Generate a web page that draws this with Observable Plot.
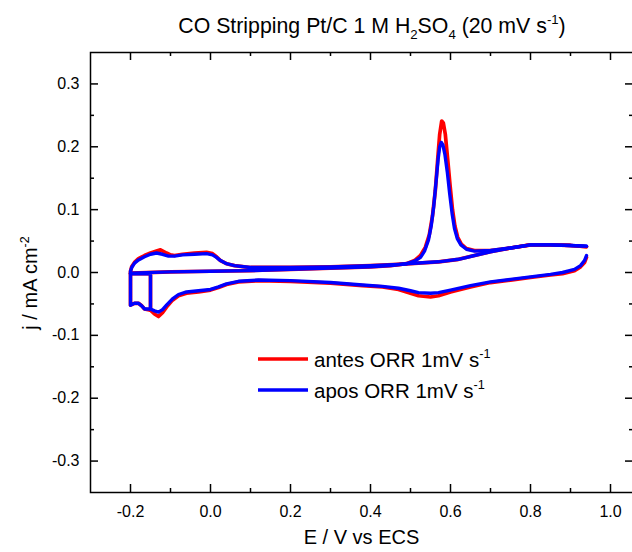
<!DOCTYPE html>
<html>
<head>
<meta charset="utf-8">
<script src="https://cdn.jsdelivr.net/npm/d3@7"></script>
<script src="https://cdn.jsdelivr.net/npm/@observablehq/plot@0.6"></script>
<style>
html, body { margin: 0; padding: 0; background: white; overflow: hidden; }
</style>
</head>
<body>
<div id="chart"></div>
<script>
// ---- Data ----
// antes ORR 1mV s-1 (red)
const E_antes = [
  -0.15, -0.15, -0.2,
  -0.2, -0.1, 0.0, 0.1, 0.2, 0.3, 0.4, 0.45, 0.49, 0.51, 0.525, 0.537, 0.547, 0.555, 0.562, 0.568, 0.573, 0.578, 0.582, 0.587, 0.593, 0.599, 0.605, 0.611, 0.618, 0.627, 0.64, 0.66, 0.7, 0.75, 0.8, 0.85, 0.9, 0.94,
  0.94, 0.935, 0.925, 0.91, 0.88, 0.85, 0.8, 0.75, 0.7, 0.65, 0.6, 0.57, 0.55, 0.52, 0.5, 0.47, 0.43, 0.38, 0.3, 0.2, 0.12, 0.07, 0.04, 0.02, 0.0, -0.03, -0.06, -0.08, -0.095, -0.11, -0.12, -0.13, -0.14, -0.15, -0.165, -0.172, -0.18, -0.19, -0.2,
  -0.2, -0.2, -0.197, -0.19, -0.18, -0.165, -0.15, -0.135, -0.125, -0.11, -0.1, -0.09, -0.07, -0.04, -0.01, 0.005, 0.015, 0.025, 0.04, 0.06, 0.1, 0.2, 0.3, 0.4, 0.47, 0.52, 0.57, 0.62, 0.66, 0.7, 0.75, 0.8, 0.85, 0.9, 0.94
];
const j_antes = [
  -0.06, -0.002, -0.002,
  -0.001, 0.001, 0.002, 0.003, 0.005, 0.007, 0.009, 0.011, 0.014, 0.019, 0.027, 0.04, 0.06, 0.09, 0.13, 0.18, 0.22, 0.241, 0.238, 0.22, 0.18, 0.138, 0.1, 0.074, 0.056, 0.045, 0.038, 0.035, 0.035, 0.039, 0.044, 0.044, 0.043, 0.041,
  0.024, 0.016, 0.009, 0.003, -0.002, -0.004, -0.008, -0.012, -0.016, -0.023, -0.031, -0.037, -0.039, -0.037, -0.033, -0.027, -0.023, -0.021, -0.017, -0.014, -0.013, -0.015, -0.019, -0.024, -0.028, -0.031, -0.033, -0.037, -0.044, -0.055, -0.064, -0.07, -0.066, -0.06, -0.058, -0.053, -0.049, -0.049, -0.052,
  -0.01, 0.002, 0.009, 0.016, 0.022, 0.027, 0.031, 0.034, 0.036, 0.031, 0.028, 0.027, 0.029, 0.031, 0.032, 0.030, 0.025, 0.019, 0.014, 0.011, 0.008, 0.008, 0.009, 0.011, 0.013, 0.015, 0.017, 0.021, 0.027, 0.033, 0.039, 0.044, 0.044, 0.043, 0.041
];
// apos ORR 1mV s-1 (blue)
const E_apos = [
  -0.15, -0.15, -0.2,
  -0.2, -0.1, 0.0, 0.1, 0.2, 0.3, 0.4, 0.45, 0.49, 0.51, 0.525, 0.535, 0.545, 0.552, 0.558, 0.564, 0.569, 0.573, 0.577, 0.581, 0.586, 0.592, 0.598, 0.604, 0.61, 0.617, 0.626, 0.64, 0.66, 0.7, 0.75, 0.8, 0.85, 0.9, 0.94,
  0.94, 0.935, 0.925, 0.91, 0.88, 0.85, 0.8, 0.75, 0.7, 0.65, 0.6, 0.57, 0.55, 0.52, 0.5, 0.47, 0.43, 0.38, 0.3, 0.2, 0.12, 0.07, 0.04, 0.02, 0.0, -0.03, -0.06, -0.08, -0.095, -0.11, -0.12, -0.13, -0.14, -0.15, -0.165, -0.172, -0.18, -0.19, -0.2,
  -0.2, -0.2, -0.197, -0.19, -0.18, -0.165, -0.15, -0.135, -0.12, -0.105, -0.09, -0.07, -0.04, -0.01, 0.005, 0.015, 0.025, 0.04, 0.06, 0.1, 0.2, 0.3, 0.4, 0.47, 0.52, 0.57, 0.62, 0.66, 0.7, 0.75, 0.8, 0.85, 0.9, 0.94
];
const j_apos = [
  -0.058, -0.002, -0.002,
  -0.001, 0.001, 0.002, 0.003, 0.005, 0.007, 0.009, 0.011, 0.014, 0.018, 0.024, 0.034, 0.052, 0.075, 0.105, 0.145, 0.18, 0.2, 0.207, 0.203, 0.188, 0.16, 0.125, 0.094, 0.07, 0.054, 0.044, 0.037, 0.034, 0.035, 0.039, 0.044, 0.044, 0.043, 0.042,
  0.027, 0.019, 0.011, 0.005, 0.0, -0.003, -0.007, -0.011, -0.015, -0.021, -0.028, -0.032, -0.033, -0.032, -0.029, -0.025, -0.022, -0.02, -0.016, -0.013, -0.012, -0.014, -0.018, -0.023, -0.027, -0.029, -0.031, -0.035, -0.042, -0.052, -0.059, -0.063, -0.061, -0.058, -0.058, -0.053, -0.049, -0.049, -0.052,
  -0.01, 0.002, 0.008, 0.015, 0.02, 0.025, 0.029, 0.031, 0.029, 0.026, 0.026, 0.028, 0.029, 0.03, 0.028, 0.024, 0.019, 0.014, 0.011, 0.008, 0.008, 0.009, 0.011, 0.013, 0.015, 0.017, 0.021, 0.027, 0.033, 0.039, 0.044, 0.044, 0.043, 0.042
];

const xTicks = [-0.2, 0.0, 0.2, 0.4, 0.6, 0.8, 1.0];
const xMinor = [-0.1, 0.1, 0.3, 0.5, 0.7, 0.9];
const yTicks = [-0.3, -0.2, -0.1, 0.0, 0.1, 0.2, 0.3];
const yMinor = [-0.25, -0.15, -0.05, 0.05, 0.15, 0.25];
const seriesNames = ["antes ORR 1mV s", "apos ORR 1mV s"];
const seriesColors = ["#ff0000", "#0000ff"];

// split each curve at the potential reversal (0.94 V) so the jump is not drawn
function build(Es, js) {
  const turn = Es.findIndex((E, i) => i > 0 && E === Es[i - 1] && E === 0.94);
  return Es.map((E, i) => ({E, j: js[i], seg: i < turn ? 0 : 1}));
}
const antes = build(E_antes, j_antes);
const apos = build(E_apos, j_apos);

const W = 634, H = 552, mT = 52, mB = 60, mL = 90, mR = 1;
const pw = W - mL - mR, ph = H - mT - mB;
const fmt = d => d.toFixed(1);
const font = "'Liberation Sans', Arial, sans-serif";

const svg = Plot.plot({
  width: W, height: H,
  marginTop: mT, marginBottom: mB, marginLeft: mL, marginRight: mR,
  style: {fontFamily: font, fontSize: "16px", color: "black", background: "white", maxWidth: "none", overflow: "visible"},
  x: {domain: [-0.3, 1.0575]},
  y: {domain: [-0.35, 0.35]},
  marks: [
    Plot.line(antes, {x: "E", y: "j", z: "seg", stroke: seriesColors[0], strokeWidth: 3.7}),
    Plot.line(apos, {x: "E", y: "j", z: "seg", stroke: seriesColors[1], strokeWidth: 3.4}),
    Plot.frame({stroke: "black", strokeWidth: 1.5}),
    Plot.ruleX(xTicks, {insetTop: ph - 8, stroke: "black", strokeWidth: 1.5}),
    Plot.ruleX(xTicks, {insetBottom: ph - 8, stroke: "black", strokeWidth: 1.5}),
    Plot.ruleX(xMinor, {insetTop: ph - 4, stroke: "black", strokeWidth: 1.5}),
    Plot.ruleX(xMinor, {insetBottom: ph - 4, stroke: "black", strokeWidth: 1.5}),
    Plot.ruleY(yTicks, {insetRight: pw - 8, stroke: "black", strokeWidth: 1.5}),
    Plot.ruleY(yTicks, {insetLeft: pw - 8, stroke: "black", strokeWidth: 1.5}),
    Plot.ruleY(yMinor, {insetRight: pw - 4, stroke: "black", strokeWidth: 1.5}),
    Plot.ruleY(yMinor, {insetLeft: pw - 4, stroke: "black", strokeWidth: 1.5}),
    Plot.axisX(xTicks, {tickSize: 0, tickPadding: 13, tickFormat: fmt, label: null, fontSize: 16}),
    Plot.axisY(yTicks, {tickSize: 0, tickPadding: 11, tickFormat: fmt, label: null, fontSize: 16})
  ]
});

document.getElementById("chart").appendChild(svg);

const s = d3.select(svg);
function rich(x, y, parts, size, anchor, transform) {
  const t = s.append("text")
    .attr("x", x).attr("y", y)
    .attr("font-family", font).attr("font-size", size)
    .attr("fill", "black").attr("text-anchor", anchor || "start");
  if (transform) t.attr("transform", transform);
  let shift = 0;
  for (const p of parts) {
    const sp = t.append("tspan");
    let target = 0, fs = size;
    if (p.sub) { target = size * 0.3; fs = size * 0.62; }
    if (p.sup) { target = -size * 0.42; fs = size * 0.62; }
    sp.attr("dy", target - shift).attr("font-size", fs).text(p.t);
    shift = target;
  }
  return t;
}

// Title
rich(372, 33, [
  {t: "CO Stripping Pt/C 1 M H"}, {t: "2", sub: true}, {t: "SO"}, {t: "4", sub: true},
  {t: " (20 mV s"}, {t: "-1", sup: true}, {t: ")"}
], 21.3, "middle");

// Axis titles
rich(361.5, 544, [{t: "E / V vs ECS"}], 20, "middle");
rich(0, 0, [{t: "j / mA cm"}, {t: "-2", sup: true}], 20, "middle", "translate(37,283) rotate(-90)");

// Legend
[0, 1].forEach(i => {
  const y = 359 + i * 31;
  s.append("line").attr("x1", 258).attr("x2", 308).attr("y1", y).attr("y2", y)
    .attr("stroke", seriesColors[i]).attr("stroke-width", 3.5);
  rich(314, y + 7.5, [{t: seriesNames[i]}, {t: "-1", sup: true}], 20.5, "start");
});
</script>
</body>
</html>
